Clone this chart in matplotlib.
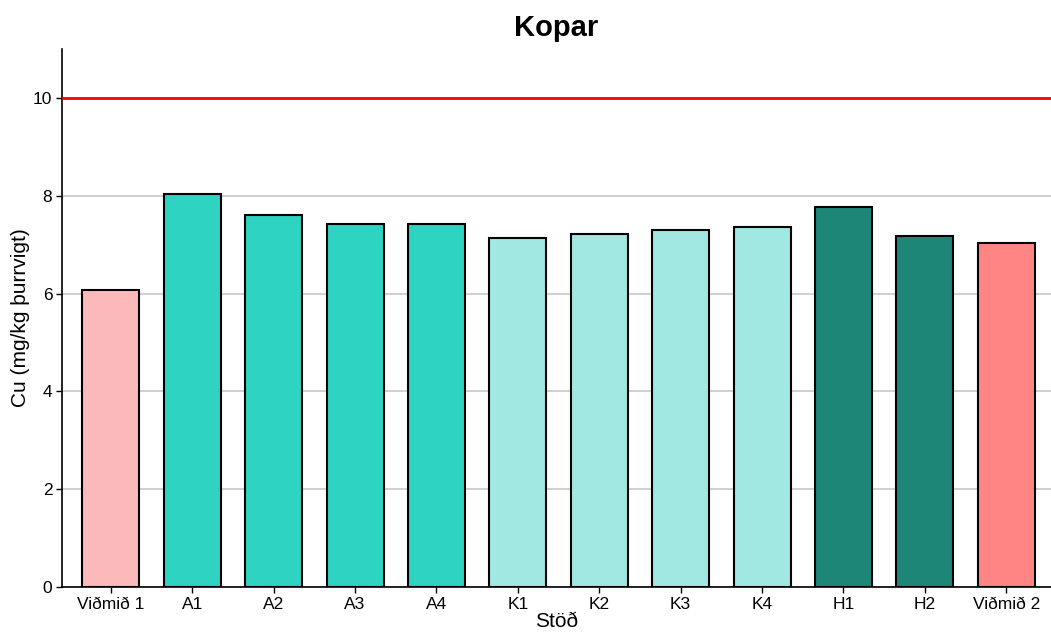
import matplotlib
matplotlib.use("Agg")
import matplotlib.pyplot as plt

# data
stations = ["Viðmið 1", "A1", "A2", "A3", "A4", "K1", "K2", "K3", "K4", "H1", "H2", "Viðmið 2"]
cu_values = [6.08, 8.03, 7.61, 7.43, 7.42, 7.13, 7.22, 7.30, 7.36, 7.77, 7.18, 7.03]
bar_colors = ["#FBB9BB", "#2ED3C2", "#2ED3C2", "#2ED3C2", "#2ED3C2",
              "#A0E8E1", "#A0E8E1", "#A0E8E1", "#A0E8E1",
              "#1E8677", "#1E8677", "#FF8585"]
limit_value = 10

plt.rcParams["font.family"] = ["Liberation Sans", "DejaVu Sans"]

fig = plt.figure(figsize=(10.51, 6.33), dpi=100)
ax = fig.add_axes([62 / 1051, 46 / 633, (1051 - 62) / 1051, (587 - 49) / 633])

x = list(range(len(stations)))
ax.set_axisbelow(True)
ax.yaxis.grid(True, color="#C8C8C8", linewidth=1.2)
ax.bar(x, cu_values, width=0.7, color=bar_colors, edgecolor="black", linewidth=1.5, zorder=3)
ax.axhline(limit_value, color="#FF0000", linewidth=2, zorder=4)

ax.set_xlim(-0.6, len(stations) - 0.45)
ax.set_ylim(0, 11)
ax.set_yticks([0, 2, 4, 6, 8, 10])
ax.set_xticks(x)
ax.set_xticklabels(stations)
ax.tick_params(axis="both", labelsize=12.5, length=4, width=1, colors="black")
ax.tick_params(axis="x", pad=3)
ax.tick_params(axis="y", pad=3)

for side in ["top", "right"]:
    ax.spines[side].set_visible(False)
for side in ["left", "bottom"]:
    ax.spines[side].set_linewidth(1.2)

ax.set_xlabel("Stöð", fontsize=15, labelpad=0)
ax.set_ylabel("Cu (mg/kg þurrvigt)", fontsize=15, labelpad=2)
ax.set_title("Kopar", fontsize=21, fontweight="bold", pad=9)

fig.savefig("out.png", dpi=100)
